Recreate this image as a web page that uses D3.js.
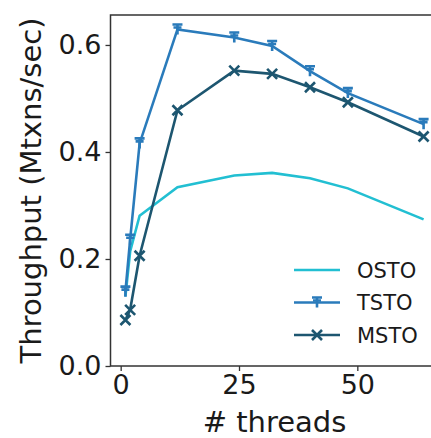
<!DOCTYPE html>
<html>
<head>
<meta charset="utf-8">
<script src="https://cdn.jsdelivr.net/npm/d3@7"></script>
<style>
body { margin: 0; background: #fff; }
text { font-family: "DejaVu Sans", sans-serif; fill: #1a1a1a; }
</style>
</head>
<body>
<script>
// thread counts and throughput (Mtxns/sec) per protocol
var threads = [1, 2, 4, 12, 24, 32, 40, 48, 64];
var osto = [0.13, 0.214, 0.281, 0.334, 0.356, 0.361, 0.351, 0.332, 0.274];
var tsto = [0.139, 0.236, 0.416, 0.629, 0.614, 0.598, 0.551, 0.510, 0.452];
var msto = [0.086, 0.105, 0.206, 0.478, 0.552, 0.546, 0.521, 0.493, 0.429];
var seriesNames = ["OSTO", "TSTO", "MSTO"];
var xTicks = [0, 25, 50];
var yTicks = [0, 0.2, 0.4, 0.6];

var w = 431;
var h = 438;

var colors = { OSTO: "#22bfd2", TSTO: "#2a7bbb", MSTO: "#1d5670" };
var tMarker = "M-5,-5H5M-4,-2H4M0,-5V5";
var xMarker = "M-5,-5L5,5M-5,5L5,-5";
var markers = { OSTO: null, TSTO: tMarker, MSTO: xMarker };

var svg = d3.select("body")
    .append("svg")
    .attr("width", w)
    .attr("height", h);

var xScale = d3.scaleLinear()
    .domain([-2.15, 67.15])
    .range([110.5, 438.5]);
var yScale = d3.scaleLinear()
    .domain([0, 0.656])
    .range([366, 15]);

// frame (right edge falls outside the picture)
svg.append("rect")
    .attr("x", xScale(-2.15))
    .attr("y", yScale(0.656))
    .attr("width", xScale(67.15) - xScale(-2.15))
    .attr("height", yScale(0) - yScale(0.656))
    .attr("fill", "none")
    .attr("stroke", "#333")
    .attr("stroke-width", 1.5);

var xAxis = d3.axisBottom(xScale)
    .tickValues(xTicks)
    .tickFormat(d3.format("d"))
    .tickSize(5)
    .tickPadding(4);
var gx = svg.append("g")
    .attr("transform", "translate(0," + yScale(0) + ")")
    .call(xAxis);

var yAxis = d3.axisLeft(yScale)
    .tickValues(yTicks)
    .tickFormat(d3.format(".1f"))
    .tickSize(5)
    .tickPadding(4);
var gy = svg.append("g")
    .attr("transform", "translate(" + xScale(-2.15) + ",0)")
    .call(yAxis);

[gx, gy].forEach(function(g) {
    g.select(".domain").remove();
    g.selectAll(".tick line").attr("stroke", "#333").attr("stroke-width", 1.3);
    g.selectAll(".tick text")
        .attr("font-family", "DejaVu Sans")
        .attr("font-size", "27px")
        .attr("fill", "#1a1a1a");
});

svg.append("text")
    .attr("x", (xScale(-2.15) + xScale(67.15)) / 2)
    .attr("y", 432)
    .attr("text-anchor", "middle")
    .attr("font-size", "29px")
    .text("# threads");

svg.append("text")
    .attr("transform", "translate(41," + (yScale(0) + yScale(0.656)) / 2 + ") rotate(-90)")
    .attr("text-anchor", "middle")
    .attr("font-size", "29px")
    .text("Throughput (Mtxns/sec)");

var line = d3.line()
    .x(function(d) { return xScale(d[0]); })
    .y(function(d) { return yScale(d[1]); });

var data = { OSTO: osto, TSTO: tsto, MSTO: msto };

seriesNames.forEach(function(name) {
    var pts = threads.map(function(t, i) { return [t, data[name][i]]; });
    svg.append("path")
        .datum(pts)
        .attr("d", line)
        .attr("fill", "none")
        .attr("stroke", colors[name])
        .attr("stroke-width", 2.6);
    if (markers[name]) {
        svg.selectAll(".m-" + name)
            .data(pts)
            .enter()
            .append("path")
            .attr("class", "m-" + name)
            .attr("d", markers[name])
            .attr("transform", function(d) {
                return "translate(" + xScale(d[0]) + "," + yScale(d[1]) + ")";
            })
            .attr("fill", "none")
            .attr("stroke", colors[name])
            .attr("stroke-width", 2.6);
    }
});

// legend
var legend = svg.append("g");
seriesNames.forEach(function(name, i) {
    var ly = 270 + i * 32.5;
    legend.append("line")
        .attr("x1", 294).attr("x2", 340)
        .attr("y1", ly).attr("y2", ly)
        .attr("stroke", colors[name])
        .attr("stroke-width", 2.6);
    if (markers[name]) {
        legend.append("path")
            .attr("d", markers[name])
            .attr("transform", "translate(317," + ly + ")")
            .attr("fill", "none")
            .attr("stroke", colors[name])
            .attr("stroke-width", 2.6);
    }
    legend.append("text")
        .attr("x", 357)
        .attr("y", ly + 7.5)
        .attr("font-size", "21px")
        .text(name);
});
</script>
</body>
</html>
